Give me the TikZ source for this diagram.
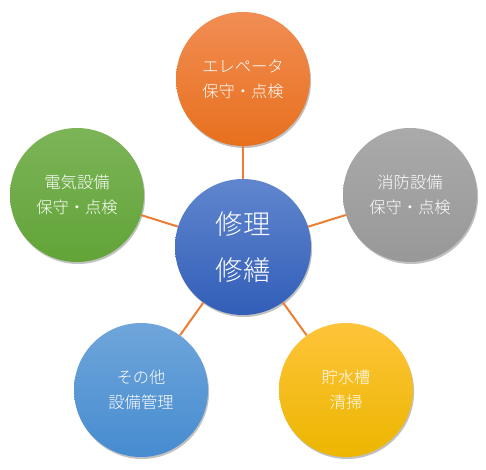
\documentclass[tikz,border=0pt]{standalone}
\usepackage{fontspec}
\setmainfont{Noto Sans CJK JP}[UprightFont={* Light}]
\usetikzlibrary{shadows}
\definecolor{lnorange}{HTML}{ED7D31}
\begin{document}
\begin{tikzpicture}[x=0.75pt,y=-0.75pt,
  ball/.style={circle,minimum size=134*0.75pt,inner sep=0pt,text=white,align=center,
    drop shadow={shadow xshift=0.8pt,shadow yshift=-1.5pt,opacity=0.35,fill=black!70}},
  outertxt/.style={font=\fontsize{12.2pt}{19pt}\selectfont},
  link/.style={draw=lnorange,line width=1.5pt}]
\useasboundingbox (0,0) rectangle (486,470);
\node[ball,minimum size=136*0.75pt,top color={rgb,255:red,96;green,134;blue,206},bottom color={rgb,255:red,50;green,94;blue,184},font=\fontsize{20.5pt}{34pt}\selectfont] (c) at (243,247) {修理\\修繕};
\node[ball,outertxt,top color={rgb,255:red,241;green,141;blue,83},bottom color={rgb,255:red,232;green,112;blue,30}] (t) at (243,79) {エレペータ\\保守・点検};
\node[ball,outertxt,top color={rgb,255:red,170;green,170;blue,170},bottom color={rgb,255:red,152;green,152;blue,152}] (r) at (410,195) {消防設備\\保守・点検};
\node[ball,outertxt,top color={rgb,255:red,254;green,196;blue,58},bottom color={rgb,255:red,236;green,182;blue,0}] (y) at (346,390) {貯水槽\\清掃};
\node[ball,outertxt,top color={rgb,255:red,111;green,165;blue,218},bottom color={rgb,255:red,70;green,140;blue,208}] (b) at (141,390) {その他\\設備管理};
\node[ball,outertxt,top color={rgb,255:red,124;green,180;blue,88},bottom color={rgb,255:red,98;green,164;blue,56}] (g) at (77,195) {電気設備\\保守・点検};
\draw[link] (c) -- (t);
\draw[link] (c) -- (r);
\draw[link] (c) -- (y);
\draw[link] (c) -- (b);
\draw[link] (c) -- (g);
\end{tikzpicture}
\end{document}
